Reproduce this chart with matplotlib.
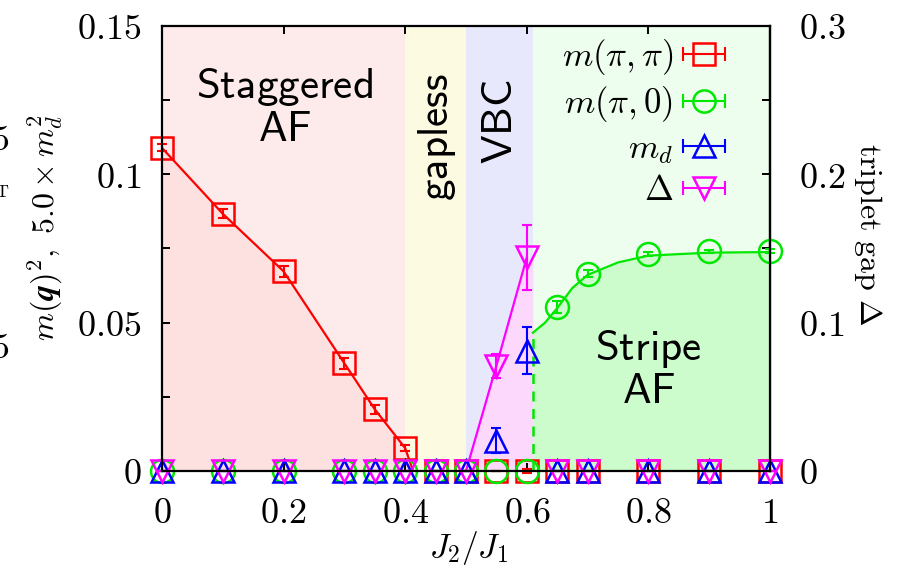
import numpy as np
import matplotlib
matplotlib.use("Agg")
import matplotlib.pyplot as plt
from matplotlib.lines import Line2D
from matplotlib.legend_handler import HandlerLine2D
from matplotlib.ticker import FixedLocator

plt.rcParams['mathtext.fontset'] = 'cm'
plt.rcParams['font.family'] = 'serif'

# J2/J1 grid used for all four quantities
j2 = [0.0, 0.1, 0.2, 0.3, 0.35, 0.4, 0.45, 0.5, 0.55, 0.6, 0.65, 0.7, 0.8, 0.9, 1.0]

# m(pi,pi)^2
m_pipi = [0.1089, 0.0867, 0.0673, 0.0363, 0.0208, 0.0077, 0, 0, 0, 0, 0, 0, 0, 0, 0]
m_pipi_err = [0.0012, 0.0015, 0.0018, 0.0018, 0.0015, 0.0010, 0, 0, 0, 0.0006, 0, 0, 0, 0, 0]

# m(pi,0)^2
m_pi0 = [0, 0, 0, 0, 0, 0, 0, 0, 0, 0, 0.0552, 0.0665, 0.0732, 0.0740, 0.0742]
m_pi0_err = [0, 0, 0, 0, 0, 0, 0, 0, 0, 0, 0.0020, 0.0012, 0.0006, 0.0006, 0.0006]

# 5.0 x m_d^2
m_d = [0, 0, 0, 0, 0, 0, 0, 0, 0.0102, 0.0406, 0, 0, 0, 0, 0]
m_d_err = [0, 0, 0, 0, 0, 0, 0, 0, 0.0042, 0.0079, 0, 0, 0, 0, 0]

# triplet gap (right axis)
gap = [0, 0, 0, 0, 0, 0, 0, 0, 0.071, 0.144, 0, 0, 0, 0, 0]
gap_err = [0, 0, 0, 0, 0, 0, 0, 0, 0.008, 0.022, 0, 0, 0, 0, 0]

# guide lines
pipi_line_x = [0.0, 0.1, 0.2, 0.3, 0.35, 0.4, 0.413]
pipi_line_y = [0.1089, 0.0867, 0.0673, 0.0363, 0.0208, 0.0077, 0.0]
pi0_fit_x = [0.61, 0.63, 0.65, 0.675, 0.7, 0.75, 0.8, 0.9, 1.0]
pi0_fit_y = [0.0466, 0.0500, 0.0549, 0.0617, 0.0661, 0.0703, 0.0726, 0.0736, 0.0738]
gap_line_x = [0.5, 0.55, 0.6]
gap_line_y = [0.0, 0.071, 0.144]

# phase boundaries
bounds = [0.0, 0.4, 0.5, 0.61, 1.0]

red, green, blue, magenta = '#ff0000', '#00e800', '#0000ff', '#ff00ff'
gap_scale = 2.0  # right axis = 2 x left axis

fig = plt.figure(figsize=(9.11, 5.68), dpi=100)
ax = fig.add_axes([162 / 911, 1 - 471 / 568, 608 / 911, 445 / 568])
ax.set_xlim(0, 1)
ax.set_ylim(0, 0.15)

# phase regions
ax.axvspan(bounds[0], bounds[1], color='#fdebeb', lw=0, zorder=0)
ax.axvspan(bounds[1], bounds[2], color='#fcfbe2', lw=0, zorder=0)
ax.axvspan(bounds[2], bounds[3], color='#e8e8fc', lw=0, zorder=0)
ax.axvspan(bounds[3], bounds[4], color='#eefeee', lw=0, zorder=0)
ax.fill_between(pipi_line_x, pipi_line_y, 0, color='#fde0e0', lw=0, zorder=0.5)
ax.fill_between(pi0_fit_x, pi0_fit_y, 0, color='#ccfccc', lw=0, zorder=0.5)
gx = gap_line_x + [bounds[3]]
gy = [v / gap_scale for v in gap_line_y] + [gap_line_y[-1] / gap_scale]
ax.fill_between(gx, gy, 0, color='#fcd9fc', lw=0, zorder=0.5)

# phase names
ax.text(0.202, 0.1225, '$\\mathsf{Staggered}$\n$\\mathsf{AF}$', ha='center', va='center',
        fontsize=31, linespacing=1.0, zorder=1)
ax.text(0.452, 0.1127, '$\\mathsf{gapless}$', rotation=90, ha='center', va='center', fontsize=31, zorder=1)
ax.text(0.556, 0.1178, '$\\mathsf{VBC}$', rotation=90, ha='center', va='center', fontsize=31, zorder=1)
ax.text(0.80, 0.0341, '$\\mathsf{Stripe}$\n$\\mathsf{AF}$', ha='center', va='center',
        fontsize=31, linespacing=1.0, zorder=1)

# lines
ax.plot(pipi_line_x, pipi_line_y, color=red, lw=1.6, zorder=2)
ax.plot(pi0_fit_x, pi0_fit_y, color=green, lw=1.6, zorder=2)
ax.plot([bounds[3], bounds[3]], [0, pi0_fit_y[0]], color=green, lw=1.8, ls=(0, (4, 3)), zorder=2)
ax.plot(gap_line_x, [v / gap_scale for v in gap_line_y], color=magenta, lw=1.6, zorder=2)

mk = dict(mfc='none', ms=16.5, mew=1.8, ls='none', clip_on=False)
eb = dict(fmt='none', elinewidth=1.5, capsize=3.5, capthick=1.5, clip_on=False)

ax.errorbar(j2, m_pipi, yerr=m_pipi_err, ecolor=red, zorder=3, **eb)
ax.plot(j2, m_pipi, marker='s', mec=red, zorder=3, **mk)
ax.errorbar(j2, m_pi0, yerr=m_pi0_err, ecolor=green, zorder=4, **eb)
ax.plot(j2, m_pi0, marker='o', mec=green, zorder=4, **mk)
ax.errorbar(j2, m_d, yerr=m_d_err, ecolor=blue, zorder=5, **eb)
ax.plot(j2, m_d, marker='^', mec=blue, zorder=5, **mk)
gap_l = [v / gap_scale for v in gap]
gap_le = [v / gap_scale for v in gap_err]
ax.errorbar(j2, gap_l, yerr=gap_le, ecolor=magenta, zorder=6, **eb)
ax.plot(j2, gap_l, marker='v', mec=magenta, zorder=6, **mk)

# axes, ticks
for s in ax.spines.values():
    s.set_linewidth(1.6)
    s.set_zorder(7)
ax.set_xticks([0, 0.2, 0.4, 0.6, 0.8, 1.0])
ax.set_xticklabels(['$0$', '$0.2$', '$0.4$', '$0.6$', '$0.8$', '$1$'])
ax.set_yticks([0, 0.05, 0.1, 0.15])
ax.set_yticklabels(['$0$', '$0.05$', '$0.1$', '$0.15$'])
ax.yaxis.set_minor_locator(FixedLocator([0.025, 0.075, 0.125]))
ax.tick_params(which='both', direction='in', length=6, width=1.4, top=True, right=False,
               labelsize=26)
ax.tick_params(axis='x', pad=18)
ax.tick_params(axis='y', pad=15)

sec = ax.secondary_yaxis('right', functions=(lambda y: y * gap_scale, lambda y: y / gap_scale))
sec.set_yticks([0, 0.1, 0.2, 0.3])
sec.set_yticklabels(['$0$', '$0.1$', '$0.2$', '$0.3$'])
sec.yaxis.set_minor_locator(FixedLocator([0.05, 0.15, 0.25]))
sec.tick_params(which='both', direction='in', length=6, width=1.4, labelsize=26, pad=21)
sec.spines['right'].set_linewidth(1.6)

# axis labels
fig.text(45 / 911, 1 - 228 / 568, r'$m(\boldsymbol{q})^2,\ 5.0\times m_d^2$', rotation=90,
         ha='center', va='center', fontsize=23)
fig.text(868 / 911, 1 - 234 / 568, r'$\mathrm{triplet\ gap}\ \Delta$', rotation=-90,
         ha='center', va='center', fontsize=23)
fig.text(469 / 911, 1 - 548 / 568, r'$J_2/J_1$', ha='center', va='center', fontsize=24)

# bits of the neighbouring panel
fig.text(9 / 911, 1 - 140 / 568, '$5$', ha='right', va='center', fontsize=26)
fig.text(9 / 911, 1 - 192 / 568, r'$\mathrm{T}$', ha='right', va='center', fontsize=13)
fig.text(9 / 911, 1 - 348 / 568, '$5$', ha='right', va='center', fontsize=26)


class CapHandler(HandlerLine2D):
    def create_artists(self, legend, orig_handle, xdescent, ydescent, width, height, fontsize, trans):
        arts = super().create_artists(legend, orig_handle, xdescent, ydescent, width, height,
                                      fontsize, trans)
        y = height / 2 - ydescent
        caps = Line2D([-xdescent, -xdescent + width], [y, y], marker='|', ms=10, mew=1.5,
                      ls='none', color=orig_handle.get_color(), transform=trans)
        return arts + [caps]


handles = [
    Line2D([], [], color=red, lw=1.5, marker='s', mfc='none', mec=red, ms=16, mew=1.8),
    Line2D([], [], color=green, lw=1.5, marker='o', mfc='none', mec=green, ms=16, mew=1.8),
    Line2D([], [], color=blue, lw=1.5, marker='^', mfc='none', mec=blue, ms=16, mew=1.8),
    Line2D([], [], color=magenta, lw=1.5, marker='v', mfc='none', mec=magenta, ms=16, mew=1.8),
]
labels = [r'$m(\pi,\pi)$', r'$m(\pi,0)$', r'$m_d$', r'$\Delta$']
leg = ax.legend(handles, labels, loc='upper right', bbox_to_anchor=(0.926, 0.975),
                markerfirst=False, frameon=False, fontsize=25, handlelength=1.2,
                handletextpad=0.3, labelspacing=0.2, borderaxespad=0, borderpad=0,
                handler_map={Line2D: CapHandler()})
leg.set_zorder(8)

fig.savefig('out.png', dpi=100)
